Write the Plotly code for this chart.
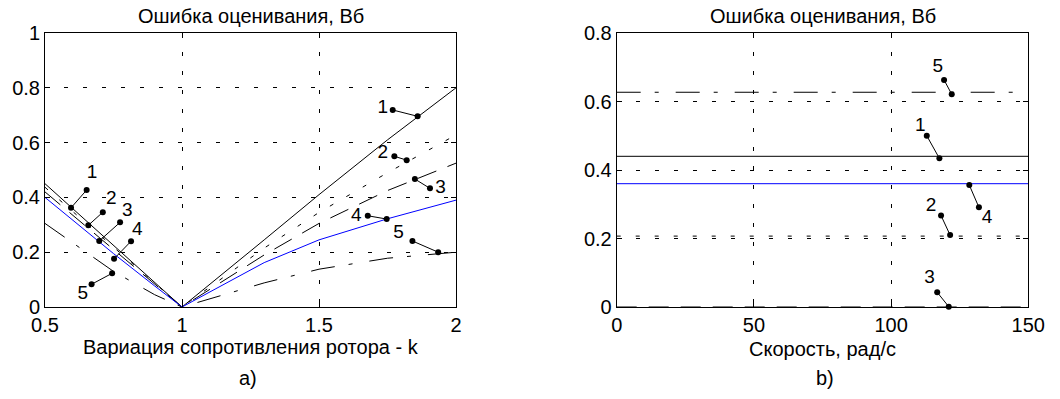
import plotly.graph_objects as go

# ---------------- data: panel a) ----------------
k_vals = [0.5, 0.75, 0.9, 1.0, 1.3, 1.5, 1.75, 2.0]
err1_k = [0.45, 0.225, 0.09, 0.0, 0.245, 0.41, 0.61, 0.80]
err2_k = [0.437, 0.218, 0.087, 0.0, 0.215, 0.345, 0.49, 0.628]
err3_k = [0.42, 0.21, 0.084, 0.0, 0.19, 0.305, 0.425, 0.525]
err4_k = [0.40, 0.195, 0.077, 0.0, 0.162, 0.245, 0.322, 0.39]
err5_k = [0.305, 0.13, 0.045, 0.0, 0.088, 0.138, 0.178, 0.20]

# ---------------- data: panel b) ----------------
speed_vals = [0, 50, 100, 150]
err1_w = [0.44, 0.44, 0.44, 0.44]
err2_w = [0.207, 0.207, 0.207, 0.207]
err3_w = [0.0, 0.0, 0.0, 0.0]
err4_w = [0.36, 0.36, 0.36, 0.36]
err5_w = [0.627, 0.627, 0.627, 0.627]

# curve labels (callouts): point on curve, elbow point, label position
labels_a = ["1", "2", "3", "4", "5", "1", "2", "3", "4", "5"]
ptr_a_x0 = [0.595, 0.658, 0.698, 0.752, 0.745, 1.860, 1.820, 1.850, 1.747, 1.935]
ptr_a_y0 = [0.362, 0.298, 0.241, 0.176, 0.123, 0.696, 0.536, 0.467, 0.321, 0.200]
ptr_a_x1 = [0.652, 0.711, 0.774, 0.814, 0.670, 1.769, 1.775, 1.905, 1.678, 1.841]
ptr_a_y1 = [0.427, 0.346, 0.309, 0.240, 0.083, 0.719, 0.550, 0.433, 0.333, 0.241]
lab_a_x = [0.672, 0.742, 0.800, 0.837, 0.638, 1.733, 1.733, 1.944, 1.636, 1.790]
lab_a_y = [0.487, 0.392, 0.348, 0.281, 0.047, 0.725, 0.561, 0.433, 0.333, 0.269]

labels_b = ["5", "1", "4", "2", "3"]
ptr_b_x0 = [122.1, 117.6, 128.5, 121.5, 121.0]
ptr_b_y0 = [0.621, 0.434, 0.356, 0.210, 0.001]
ptr_b_x1 = [119.3, 113.0, 132.0, 118.2, 116.8]
ptr_b_y1 = [0.663, 0.500, 0.291, 0.267, 0.043]
lab_b_x = [117.0, 110.6, 135.0, 114.6, 114.0]
lab_b_y = [0.699, 0.528, 0.260, 0.293, 0.083]

title_text = "Ошибка оценивания, Вб"
xlabel_a = "Вариация сопротивления ротора - k"
xlabel_b = "Скорость, рад/с"

# ---------------- styling ----------------
FONT = "Arial, Liberation Sans, sans-serif"
W, H = 1060, 399
BLACK = "#000000"
BLUE = "#0000FF"
styles = [
    dict(color=BLACK, width=1, dash="solid"),
    dict(color=BLACK, width=1, dash="4px,15px"),
    dict(color=BLACK, width=1, dash="20px,12px"),
    dict(color=BLUE, width=1, dash="solid"),
    dict(color=BLACK, width=1, dash="24px,14px,4px,17px"),
]

fig = go.Figure()

for ys, st in zip([err1_k, err2_k, err3_k, err4_k, err5_k], styles):
    fig.add_trace(go.Scatter(x=k_vals, y=ys, mode="lines", line=st,
                             xaxis="x", yaxis="y", showlegend=False, hoverinfo="skip"))

for ys, st in zip([err1_w, err2_w, err3_w, err4_w, err5_w], styles):
    fig.add_trace(go.Scatter(x=speed_vals, y=ys, mode="lines", line=st,
                             xaxis="x2", yaxis="y2", showlegend=False, hoverinfo="skip"))

# callouts
def add_callouts(x0s, y0s, x1s, y1s, lxs, lys, labs, xa, ya):
    for x0, y0, x1, y1 in zip(x0s, y0s, x1s, y1s):
        fig.add_trace(go.Scatter(x=[x0, x1], y=[y0, y1], mode="lines+markers",
                                 line=dict(color=BLACK, width=1),
                                 marker=dict(color=BLACK, size=6),
                                 xaxis=xa, yaxis=ya, showlegend=False,
                                 hoverinfo="skip", cliponaxis=False))
    fig.add_trace(go.Scatter(x=lxs, y=lys, mode="text", text=labs,
                             textfont=dict(family=FONT, size=19, color=BLACK),
                             textposition="middle center",
                             xaxis=xa, yaxis=ya, showlegend=False,
                             hoverinfo="skip", cliponaxis=False))

add_callouts(ptr_a_x0, ptr_a_y0, ptr_a_x1, ptr_a_y1, lab_a_x, lab_a_y, labels_a, "x", "y")
add_callouts(ptr_b_x0, ptr_b_y0, ptr_b_x1, ptr_b_y1, lab_b_x, lab_b_y, labels_b, "x2", "y2")

def px_x(p):
    return p / W

def px_y(p):
    return 1 - p / H

ydom = [px_y(307), px_y(33)]
axis_common = dict(
    showline=True, linecolor=BLACK, linewidth=1, mirror="ticks",
    ticks="inside", ticklen=5, tickcolor=BLACK, tickwidth=1,
    showgrid=True, gridcolor=BLACK, gridwidth=1, griddash="4px,15px",
    zeroline=False, tickfont=dict(family=FONT, size=20, color=BLACK),
    fixedrange=True, automargin=False, ticklabelstandoff=0,
)

fig.update_layout(
    width=W, height=H,
    margin=dict(l=0, r=0, t=0, b=0, pad=0, autoexpand=False),
    paper_bgcolor="white", plot_bgcolor="white",
    xaxis=dict(domain=[px_x(45), px_x(456)], range=[0.5, 2], tickvals=[0.5, 1, 1.5, 2],
               ticktext=["0.5", "1", "1.5", "2"], anchor="y", **axis_common),
    yaxis=dict(domain=ydom, range=[0, 1], tickvals=[0, 0.2, 0.4, 0.6, 0.8, 1],
               ticktext=["0", "0.2", "0.4", "0.6", "0.8", "1"], anchor="x", **axis_common),
    xaxis2=dict(domain=[px_x(616.7), px_x(1028.3)], range=[0, 150],
                tickvals=[0, 50, 100, 150], ticktext=["0", "50", "100", "150"],
                anchor="y2", **axis_common),
    yaxis2=dict(domain=ydom, range=[0, 0.8], tickvals=[0, 0.2, 0.4, 0.6, 0.8],
                ticktext=["0", "0.2", "0.4", "0.6", "0.8"], anchor="x2", **axis_common),
    showlegend=False,
    hovermode=False,
)

def ann(text, xpx, ypx, size):
    fig.add_annotation(text=text, x=px_x(xpx), y=px_y(ypx), xref="paper", yref="paper",
                       showarrow=False, xanchor="center", yanchor="middle",
                       font=dict(family=FONT, size=size, color=BLACK))

ann(title_text, 250.5, 16, 20)
ann(title_text, 822.5, 16, 20)
ann(xlabel_a, 250.5, 347, 20)
ann(xlabel_b, 822.5, 349, 20)
ann("a)", 248, 378, 20)
ann("b)", 825, 378, 20)

fig.write_html("out.html", config={"displayModeBar": False, "staticPlot": True},
               post_script="document.body.style.margin='0';")
